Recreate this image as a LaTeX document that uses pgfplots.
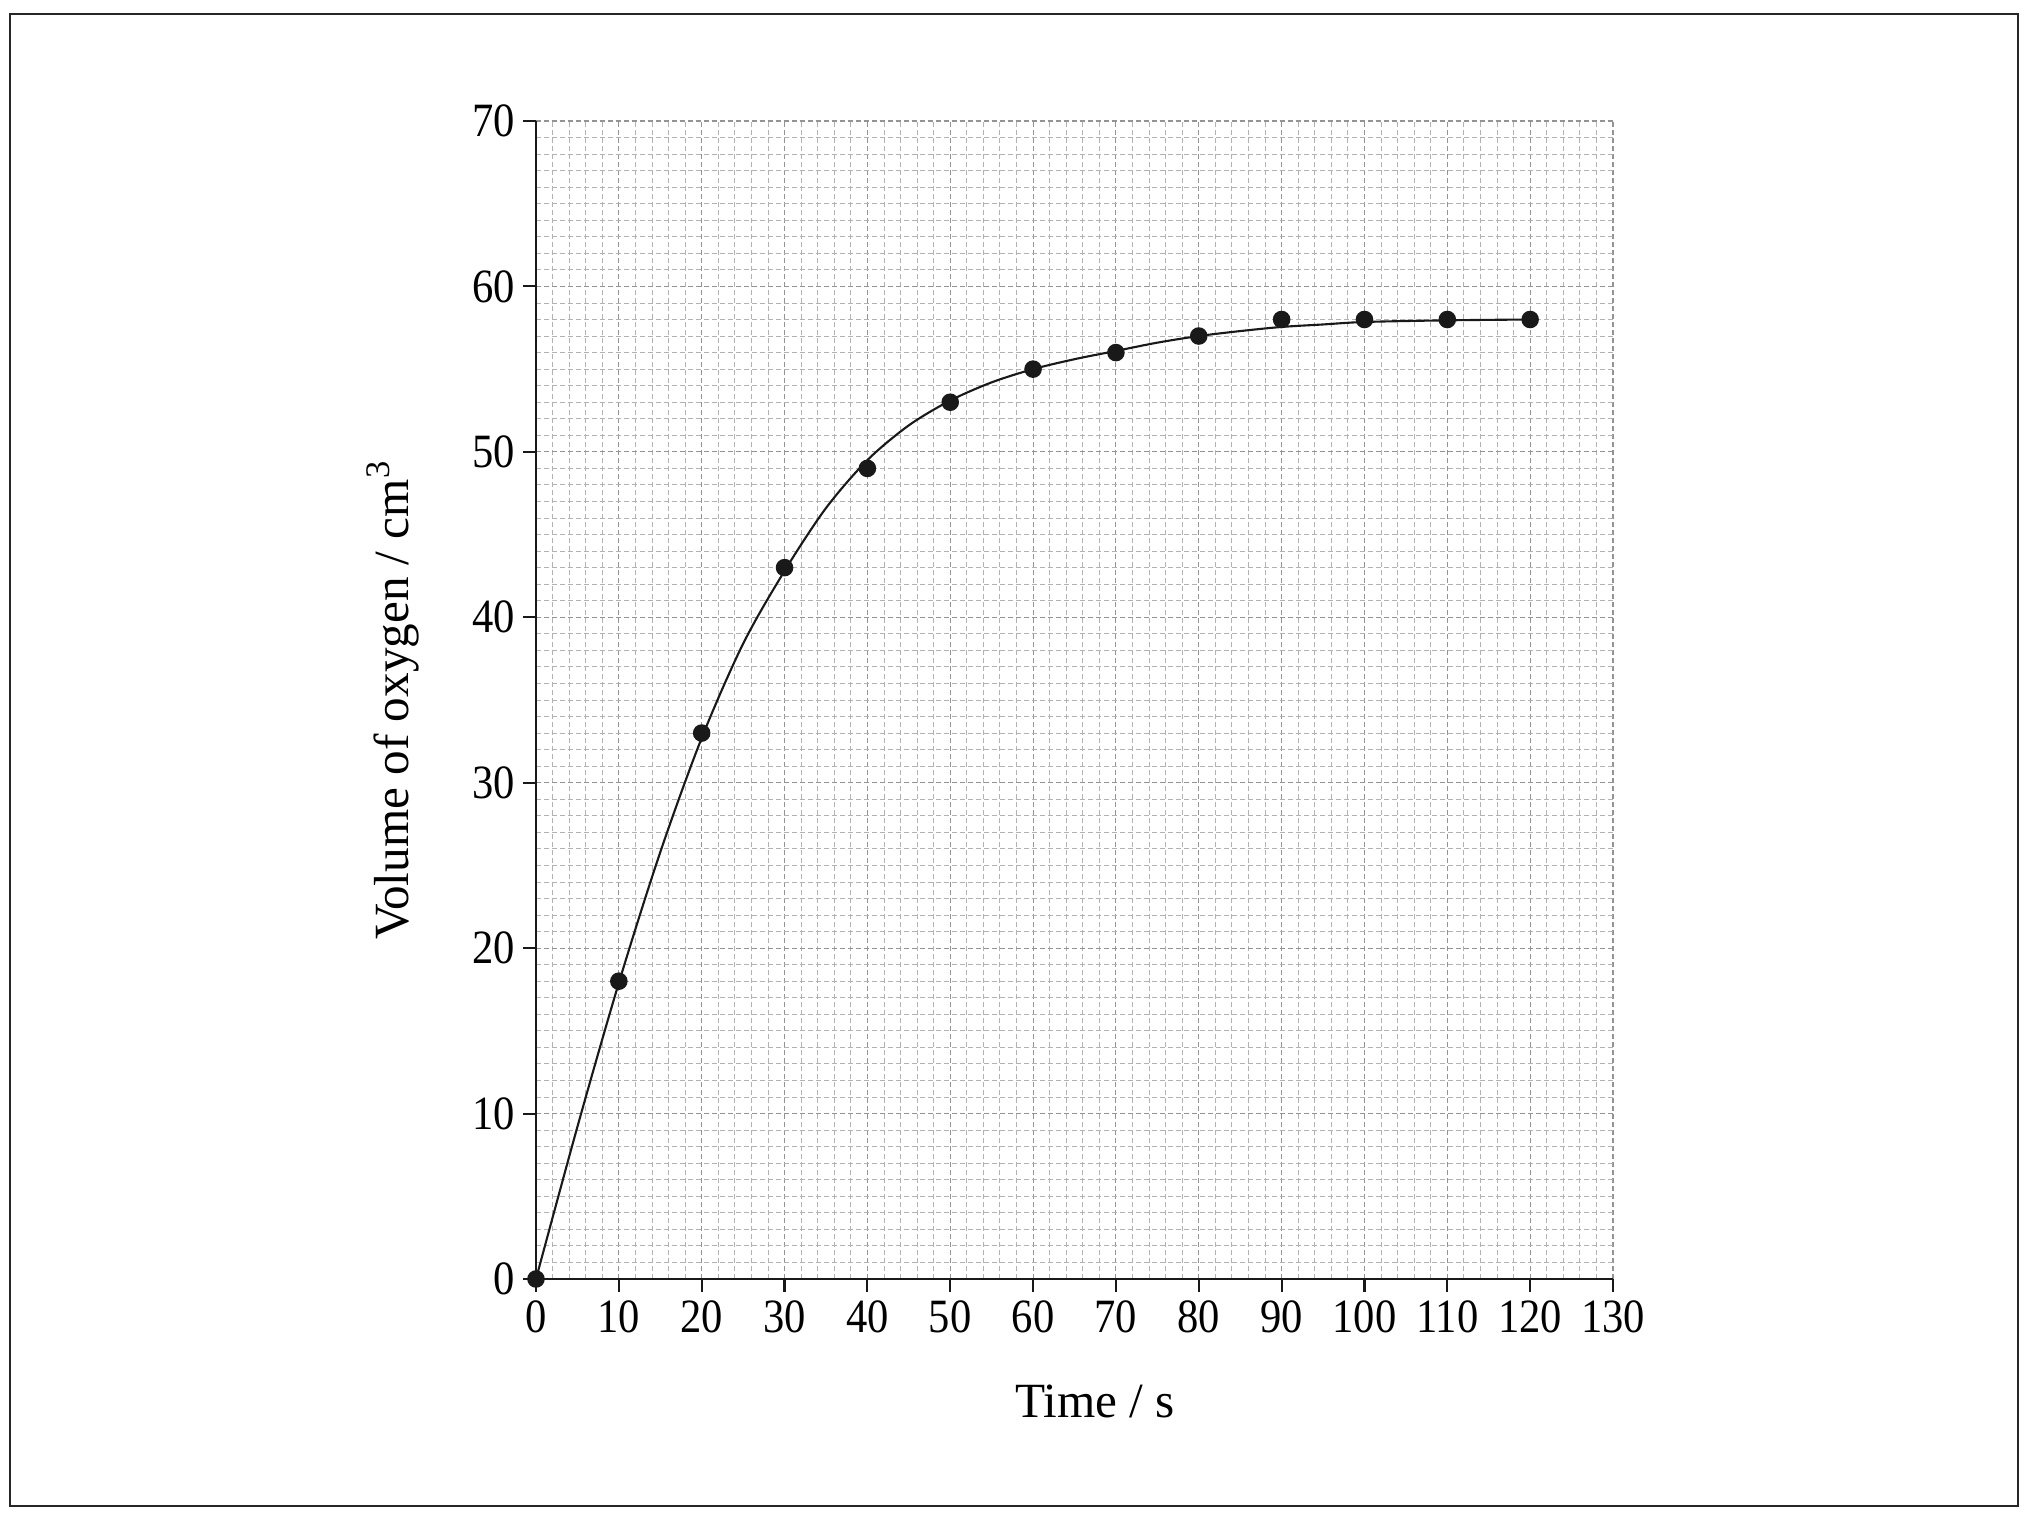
\documentclass[border=0pt]{standalone}
\usepackage{fontspec}
\setmainfont{Liberation Serif}
\newfontfamily\tickfont[FakeStretch=0.89]{Liberation Serif}
\usepackage{pgfplots}
\pgfplotsset{compat=1.18}

\begin{document}
\begin{tikzpicture}[x=1cm,y=1cm]
  \useasboundingbox (-5.36,-2.40) rectangle (14.95,12.79);
  \draw[line width=0.2mm, black!85] (-5.26,-2.27) rectangle (14.82,12.65);
  \begin{axis}[
      scale only axis,
      width=10.77cm,
      height=11.58cm,
      xmin=0, xmax=130,
      ymin=0, ymax=70,
      xtick distance=10,
      ytick distance=10,
      minor x tick num=4,
      minor y tick num=9,
      axis lines=left,
      axis line style={-, line width=0.6pt, black!90},
      tick align=outside,
      major tick length=1.3mm,
      minor tick length=0pt,
      tick style={line width=0.6pt, black!90},
      grid=both,
      major grid style={gray!85, line width=0.3pt, dash pattern=on 0.5mm off 0.3mm},
      minor grid style={gray!60, line width=0.25pt, dash pattern=on 0.5mm off 0.3mm},
      /pgf/number format/assume math mode=true,
      tick label style={font=\tickfont\fontsize{13.6}{15}\selectfont, inner sep=2.2pt},
      xlabel={Time / s},
      ylabel={Volume of oxygen / cm\textsuperscript{3}},
      label style={font=\fontsize{14}{16}\selectfont},
      xlabel style={at={(axis description cs:0.519,-0.120)}, anchor=base},
      ylabel style={at={(axis description cs:-0.133,0.5)}, anchor=center},
      clip=false,
    ]
    % best-fit curve
    \addplot[smooth, line width=0.6pt, black!90] coordinates {
      (0,0) (5,9.2) (10,17.9) (15,25.8) (20,32.7) (25,38.4) (30,42.8)
      (35,46.6) (40,49.5) (45,51.6) (50,53.1) (55,54.2) (60,55.0) (65,55.6)
      (70,56.1) (75,56.6) (80,57.0) (85,57.3) (90,57.55) (95,57.7)
      (100,57.85) (110,57.95) (120,58)
    };
    % measured points
    \addplot[only marks, mark=*, mark size=2.3pt, black!90] coordinates {
      (0,0) (10,18) (20,33) (30,43) (40,49) (50,53) (60,55)
      (70,56) (80,57) (90,58) (100,58) (110,58) (120,58)
    };
  \end{axis}
\end{tikzpicture}
\end{document}
